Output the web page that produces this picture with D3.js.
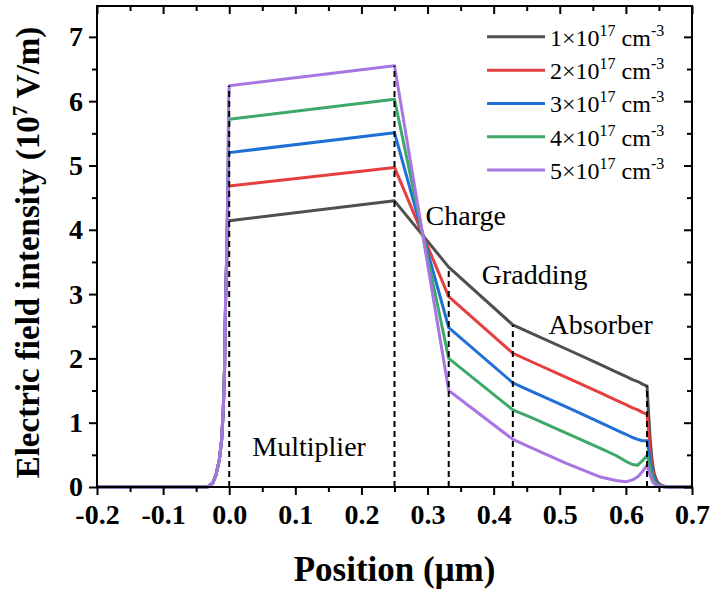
<!DOCTYPE html>
<html>
<head>
<meta charset="utf-8">
<script src="https://cdn.jsdelivr.net/npm/d3@7"></script>
<style>
  body { margin: 0; background: #fff; }
  text { font-family: "Liberation Serif", "Times New Roman", serif; }
</style>
</head>
<body>
<div id="chart"></div>
<script>
// positions (um) shared by every curve
const positions = [-0.2, -0.033, -0.025, -0.02, -0.015, -0.0115, -0.009, -0.007, -0.0055, -0.0035, -0.002, -0.001, 0,
  0.25, 0.332, 0.429, 0.459, 0.509, 0.56, 0.585, 0.6, 0.61, 0.618, 0.625, 0.632,
  0.634, 0.637, 0.64, 0.643, 0.647, 0.652, 0.658, 0.665, 0.7];

// electric field (10^7 V/m) for each doping level
const field1e17 = [0, 0, 0.06, 0.19, 0.42, 0.73, 1.2, 1.87, 2.9, 3.7, 4.05, 4.12, 4.14,
  4.45, 3.42, 2.52, 2.38, 2.15, 1.91, 1.79, 1.72, 1.67, 1.64, 1.60, 1.57,
  1.2, 0.7, 0.38, 0.2, 0.09, 0.035, 0.01, 0, 0];
const field2e17 = [0, 0, 0.06, 0.19, 0.42, 0.73, 1.2, 1.87, 2.9, 3.7, 4.5, 4.65, 4.68,
  4.97, 2.96, 2.08, 1.94, 1.71, 1.47, 1.35, 1.28, 1.23, 1.20, 1.16, 1.13,
  0.9, 0.55, 0.3, 0.16, 0.07, 0.03, 0.01, 0, 0];
const field3e17 = [0, 0, 0.06, 0.19, 0.42, 0.73, 1.2, 1.87, 2.9, 3.7, 4.8, 5.15, 5.20,
  5.51, 2.48, 1.62, 1.48, 1.25, 1.01, 0.89, 0.82, 0.77, 0.74, 0.72, 0.72,
  0.6, 0.38, 0.22, 0.12, 0.05, 0.02, 0.005, 0, 0];
const field4e17 = [0, 0, 0.06, 0.19, 0.42, 0.73, 1.2, 1.87, 2.9, 3.7, 4.8, 5.6, 5.72,
  6.03, 2.00, 1.20, 1.07, 0.84, 0.61, 0.49, 0.40, 0.35, 0.34, 0.41, 0.49,
  0.42, 0.28, 0.16, 0.08, 0.04, 0.015, 0.005, 0, 0];
const field5e17 = [0, 0, 0.06, 0.19, 0.42, 0.73, 1.2, 1.87, 2.9, 3.7, 4.8, 6.0, 6.24,
  6.55, 1.50, 0.74, 0.60, 0.37, 0.16, 0.10, 0.08, 0.11, 0.16, 0.24, 0.34,
  0.27, 0.17, 0.09, 0.05, 0.02, 0.01, 0, 0, 0];

const dopingLabels = ["1", "2", "3", "4", "5"];
const seriesColors = ["#4f4f4f", "#e53e3e", "#1f6fd6", "#3ca86a", "#a876e0"];

// layer boundaries and the height of their dashed markers
const boundaries = [0, 0.25, 0.332, 0.429, 0.632];
const boundaryTops = [6.24, 6.55, 3.42, 2.52, 1.57];

const regionNames = ["Multiplier", "Charge", "Gradding", "Absorber"];
const regionAnchors = [[0.035, 0.48], [0.297, 4.08], [0.382, 3.16], [0.483, 2.38]];

const xTicks = [-0.2, -0.1, 0.0, 0.1, 0.2, 0.3, 0.4, 0.5, 0.6, 0.7];
const xTickLabels = ["-0.2", "-0.1", "0.0", "0.1", "0.2", "0.3", "0.4", "0.5", "0.6", "0.7"];
const yTicks = [0, 1, 2, 3, 4, 5, 6, 7];

const W = 710, H = 590;
const margin = { top: 6, right: 18, bottom: 103, left: 97 };
const width = W - margin.left - margin.right;
const height = H - margin.top - margin.bottom;

const svg = d3.select("#chart").append("svg")
  .attr("width", W)
  .attr("height", H);

const g = svg.append("g")
  .attr("transform", `translate(${margin.left},${margin.top})`);

const x = d3.scaleLinear().domain([-0.2, 0.7]).range([0, width]);
const y = d3.scaleLinear().domain([0, 7.48]).range([height, 0]);

const series = [field1e17, field2e17, field3e17, field4e17, field5e17].map((vals, i) => ({
  label: dopingLabels[i],
  color: seriesColors[i],
  values: positions.map((p, j) => ({ p, e: vals[j] }))
}));

// curves
const line = d3.line()
  .x(d => x(d.p))
  .y(d => y(d.e));

g.selectAll("path.curve")
  .data(series)
  .enter()
  .append("path")
    .attr("class", "curve")
    .attr("fill", "none")
    .attr("stroke", d => d.color)
    .attr("stroke-width", 3)
    .attr("stroke-linejoin", "round")
    .attr("d", d => line(d.values));

// dashed layer boundaries
g.selectAll("line.boundary")
  .data(boundaries)
  .enter()
  .append("line")
    .attr("x1", d => x(d))
    .attr("x2", d => x(d))
    .attr("y1", y(0))
    .attr("y2", (d, i) => y(boundaryTops[i]))
    .attr("stroke", "#000")
    .attr("stroke-width", 2)
    .attr("stroke-dasharray", "6,4");

// region labels
g.selectAll("text.region")
  .data(regionNames)
  .enter()
  .append("text")
    .attr("x", (d, i) => x(regionAnchors[i][0]))
    .attr("y", (d, i) => y(regionAnchors[i][1]))
    .style("font-size", "28px")
    .text(d => d);

// axes: bottom/left outward, top/right inward
const xMinor = d3.range(-0.15, 0.7, 0.1);
const yMinor = d3.range(0.5, 7.5, 1);

const axBottom = g.append("g").attr("transform", `translate(0,${height})`);
axBottom.call(d3.axisBottom(x).tickValues(xTicks).tickFormat((d, i) => xTickLabels[i]).tickSize(8).tickPadding(9));
axBottom.append("g").call(d3.axisBottom(x).tickValues(xMinor).tickFormat("").tickSize(5));

const axLeft = g.append("g");
axLeft.call(d3.axisLeft(y).tickValues(yTicks).tickSize(8).tickPadding(6));
axLeft.append("g").call(d3.axisLeft(y).tickValues(yMinor).tickFormat("").tickSize(5));

const axTop = g.append("g");
axTop.call(d3.axisBottom(x).tickValues(xTicks).tickFormat("").tickSize(8));
axTop.append("g").call(d3.axisBottom(x).tickValues(xMinor).tickFormat("").tickSize(5));

const axRight = g.append("g").attr("transform", `translate(${width},0)`);
axRight.call(d3.axisLeft(y).tickValues(yTicks).tickFormat("").tickSize(8));
axRight.append("g").call(d3.axisLeft(y).tickValues(yMinor).tickFormat("").tickSize(5));

g.selectAll(".domain").remove();
g.selectAll(".tick line").attr("stroke", "#000").attr("stroke-width", 2);
g.selectAll(".tick text")
  .attr("fill", "#000")
  .style("font-family", "'Liberation Serif', serif")
  .style("font-weight", "bold")
  .style("font-size", "28px");

g.append("rect")
  .attr("width", width)
  .attr("height", height)
  .attr("fill", "none")
  .attr("stroke", "#000")
  .attr("stroke-width", 2);

// axis titles
svg.append("text")
  .attr("x", margin.left + width / 2)
  .attr("y", 581)
  .attr("text-anchor", "middle")
  .style("font-size", "35px")
  .style("font-weight", "bold")
  .text("Position (μm)");

const yTitle = svg.append("text")
  .attr("transform", `translate(39,${margin.top + height / 2 + 6}) rotate(-90)`)
  .attr("text-anchor", "middle")
  .style("font-size", "33px")
  .style("font-weight", "bold");
yTitle.append("tspan").text("Electric field intensity (10");
yTitle.append("tspan").attr("dy", -12).style("font-size", "21px").text("7");
yTitle.append("tspan").attr("dy", 12).text(" V/m)");

// legend
const legend = g.append("g")
  .attr("transform", `translate(${x(0.39)},${y(7.0)})`);

const rows = legend.selectAll("g")
  .data(series)
  .enter()
  .append("g")
    .attr("transform", (d, i) => `translate(0,${i * 33.3})`);

rows.append("line")
  .attr("x1", 0).attr("x2", 58)
  .attr("stroke", d => d.color)
  .attr("stroke-width", 3);

const rowText = rows.append("text")
  .attr("x", 63)
  .attr("y", 9)
  .style("font-size", "24px");
rowText.append("tspan").text(d => d.label + "×10");
rowText.append("tspan").attr("dy", -10).style("font-size", "16px").text("17");
rowText.append("tspan").attr("dy", 10).text(" cm");
rowText.append("tspan").attr("dy", -10).style("font-size", "16px").text("-3");
</script>
</body>
</html>
